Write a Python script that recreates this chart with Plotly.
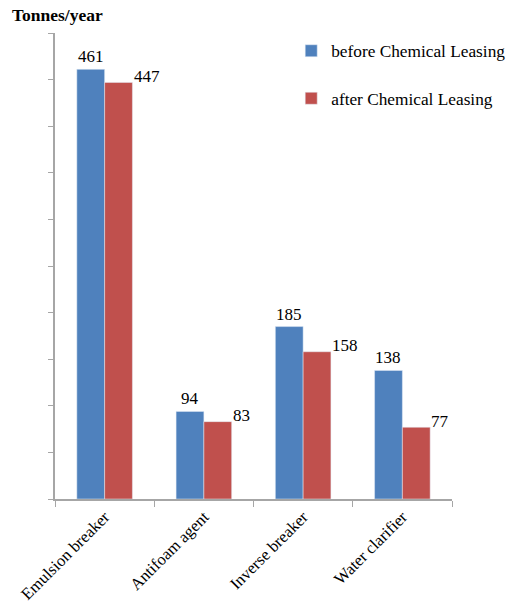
import plotly.graph_objects as go

categories = ["Emulsion breaker", "Antifoam agent", "Inverse breaker", "Water clarifier"]
before = [461, 94, 185, 138]
after = [447, 83, 158, 77]
series_names = ["before Chemical Leasing", "after Chemical Leasing"]
colors = ["#4F81BD", "#C0504D"]

FONT = "Liberation Serif, Times New Roman, serif"

fig = go.Figure()
fig.add_trace(go.Bar(x=categories, y=before, name=series_names[0], marker_color=colors[0],
                     legendgroup="b"))
fig.add_trace(go.Bar(x=categories, y=after, name=series_names[1], marker_color=colors[1],
                     legendgroup="a"))

annotations = []
for c, v in zip(categories, before):
    annotations.append(dict(x=c, y=v, xref="x", yref="y", text=str(v), showarrow=False,
                            xshift=-14, yshift=1, yanchor="bottom", xanchor="center",
                            font=dict(family=FONT, size=17, color="black")))
for c, v in zip(categories, after):
    annotations.append(dict(x=c, y=v, xref="x", yref="y", text=str(v), showarrow=False,
                            xshift=27, yshift=6, yanchor="middle", xanchor="left",
                            font=dict(family=FONT, size=17, color="black")))
annotations.append(dict(x=-0.113, y=1.0, xref="paper", yref="paper", yshift=18,
                        text="<b>Tonnes/year</b>", showarrow=False,
                        xanchor="left", yanchor="middle",
                        font=dict(family=FONT, size=17.5, color="black")))

fig.update_layout(
    width=510, height=607,
    margin=dict(l=55, r=58, t=33, b=108, autoexpand=False),
    paper_bgcolor="white", plot_bgcolor="white",
    barmode="group", bargap=0.44, bargroupgap=0,
    font=dict(family=FONT, size=16, color="black"),
    showlegend=True,
    legend=dict(x=0.595, y=1.0, xanchor="left", yanchor="top", xref="paper", yref="paper",
                font=dict(family=FONT, size=17.3), tracegroupgap=22,
                bgcolor="rgba(0,0,0,0)", itemwidth=30, traceorder="grouped"),
    xaxis=dict(showline=True, linecolor="#A6A6A6", linewidth=1.5, ticks="outside",
               tickson="boundaries", ticklen=6, tickcolor="#A6A6A6", tickangle=-45,
               tickfont=dict(family=FONT, size=16.5), showgrid=False),
    yaxis=dict(range=[0, 500], dtick=50, showline=True, linecolor="#A6A6A6", linewidth=1.5,
               ticks="outside", ticklen=5, tickcolor="#A6A6A6", showticklabels=False,
               showgrid=False, zeroline=False),
    annotations=annotations,
)
fig.write_html("out.html")
